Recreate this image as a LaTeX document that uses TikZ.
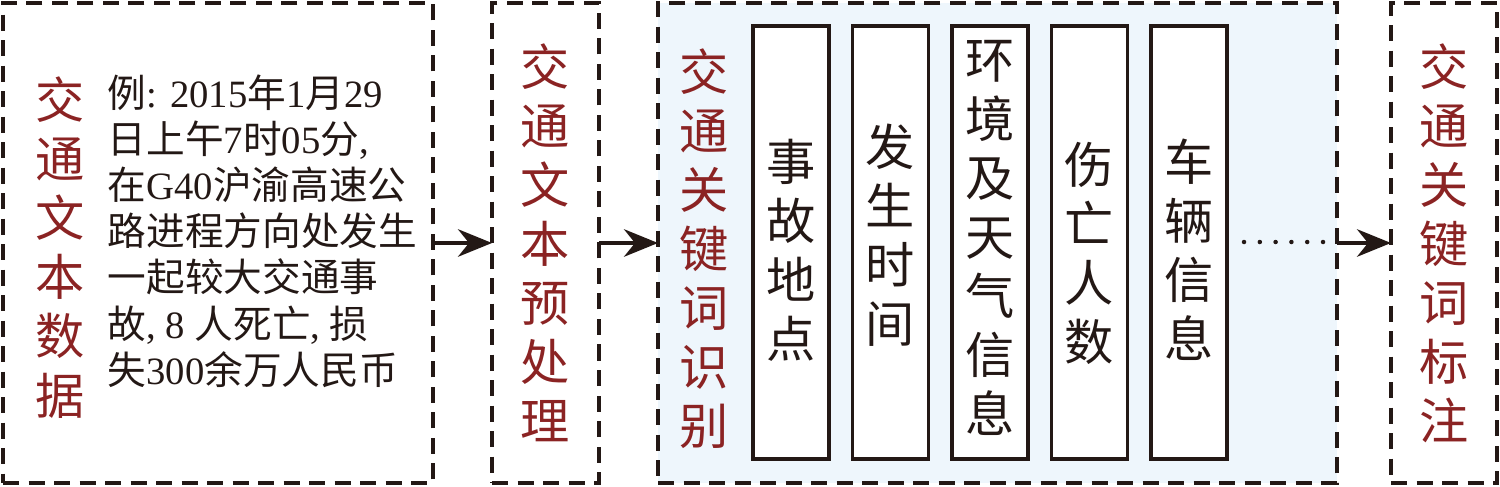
\documentclass[tikz,border=0pt]{standalone}
\usepackage{fontspec}
\setmainfont{Liberation Serif}
\newfontfamily\cjk{Noto Sans CJK SC}
\newfontfamily\latn{Liberation Serif}
\usetikzlibrary{positioning, arrows.meta}
\definecolor{inkblack}{RGB}{35,24,21}
\definecolor{labelred}{RGB}{139,35,35}
\definecolor{panelblue}{RGB}{238,246,252}
\tikzset{
  stagebox/.style={draw=inkblack, line width=0.07cm, dash pattern=on 0.32cm off 0.19cm,
    minimum height=9.6cm, inner sep=0pt, outer sep=0pt},
  keybox/.style={draw=inkblack, fill=white, line width=0.07cm, minimum width=1.52cm,
    minimum height=8.66cm, inner sep=0pt, outer sep=0pt},
  redlabel/.style={text=labelred, align=center, inner sep=0pt,
    font=\cjk\fontsize{28}{33.6}\selectfont},
  keylabel/.style={text=inkblack, align=center, inner sep=0pt,
    font=\cjk\fontsize{28}{33.6}\selectfont},
  sampletext/.style={text=inkblack, align=left, inner sep=0pt,
    font=\cjk\fontsize{22}{26.3}\selectfont},
  flow/.style={draw=inkblack, line width=0.075cm,
    -{Stealth[length=0.68cm, width=0.55cm, inset=0.22cm]}},
  dotline/.style={draw=inkblack, line width=0.09cm, line cap=round,
    dash pattern=on 0pt off 0.316cm},
}

\begin{document}
\begin{tikzpicture}
  \useasboundingbox (0,0) rectangle (30,9.72);

  % stages
  \node[stagebox, minimum width=8.6cm] (data) at (4.36,4.86) {};
  \node[stagebox, minimum width=2.14cm] (prep) at (10.91,4.86) {};
  \node[stagebox, fill=panelblue, minimum width=13.58cm] (recog) at (19.95,4.86) {};
  \node[stagebox, minimum width=2.12cm] (mark) at (28.88,4.86) {};

  % keyword columns
  \node[keybox] (place) at (15.82,4.87) {};
  \node[keybox, right=0.47cm of place] (time) {};
  \node[keybox, right=0.47cm of time] (weather) {};
  \node[keybox, right=0.47cm of weather] (victim) {};
  \node[keybox, right=0.47cm of victim] (vehicle) {};

  % labels
  \node[redlabel] (datalabel) at (1.2,4.77) {交\\通\\文\\本\\数\\据};
  \node[sampletext, anchor=west] (sample) at (2.15,5.1)
    {例{\latn: 2015}年{\latn 1}月{\latn 29}\\
     日上午{\latn 7}时{\latn 05}分{\latn ,}\\
     在{\latn G40}沪渝高速公\\
     路进程方向处发生\\
     一起较大交通事\\
     故{\latn , 8 }人死亡{\latn ,} 损\\
     失{\latn 300}余万人民币};
  \node[redlabel] (preplabel) at (prep) {交\\通\\文\\本\\预\\处\\理};
  \node[redlabel] (recoglabel) at (14.08,4.74) {交\\通\\关\\键\\词\\识\\别};
  \node[redlabel] (marklabel) at (mark) {交\\通\\关\\键\\词\\标\\注};

  \node[keylabel, yshift=-0.15cm] at (place) {事\\故\\地\\点};
  \node[keylabel, yshift=0.15cm] at (time) {发\\生\\时\\间};
  \node[keylabel, yshift=0.09cm] at (weather) {环\\境\\及\\天\\气\\信\\息};
  \node[keylabel, yshift=-0.22cm] at (victim) {伤\\亡\\人\\数};
  \node[keylabel, yshift=-0.14cm] at (vehicle) {车\\辆\\信\\息};

  % more keywords
  \coordinate (dotsL) at (24.88,4.88);
  \coordinate (dotsR) at (26.47,4.88);
  \draw[dotline] (dotsL) -- (dotsR);

  % flow
  \draw[flow] (data) -- (prep);
  \draw[flow] (prep) -- (recog);
  \draw[flow] (recog) -- (mark);
\end{tikzpicture}
\end{document}
